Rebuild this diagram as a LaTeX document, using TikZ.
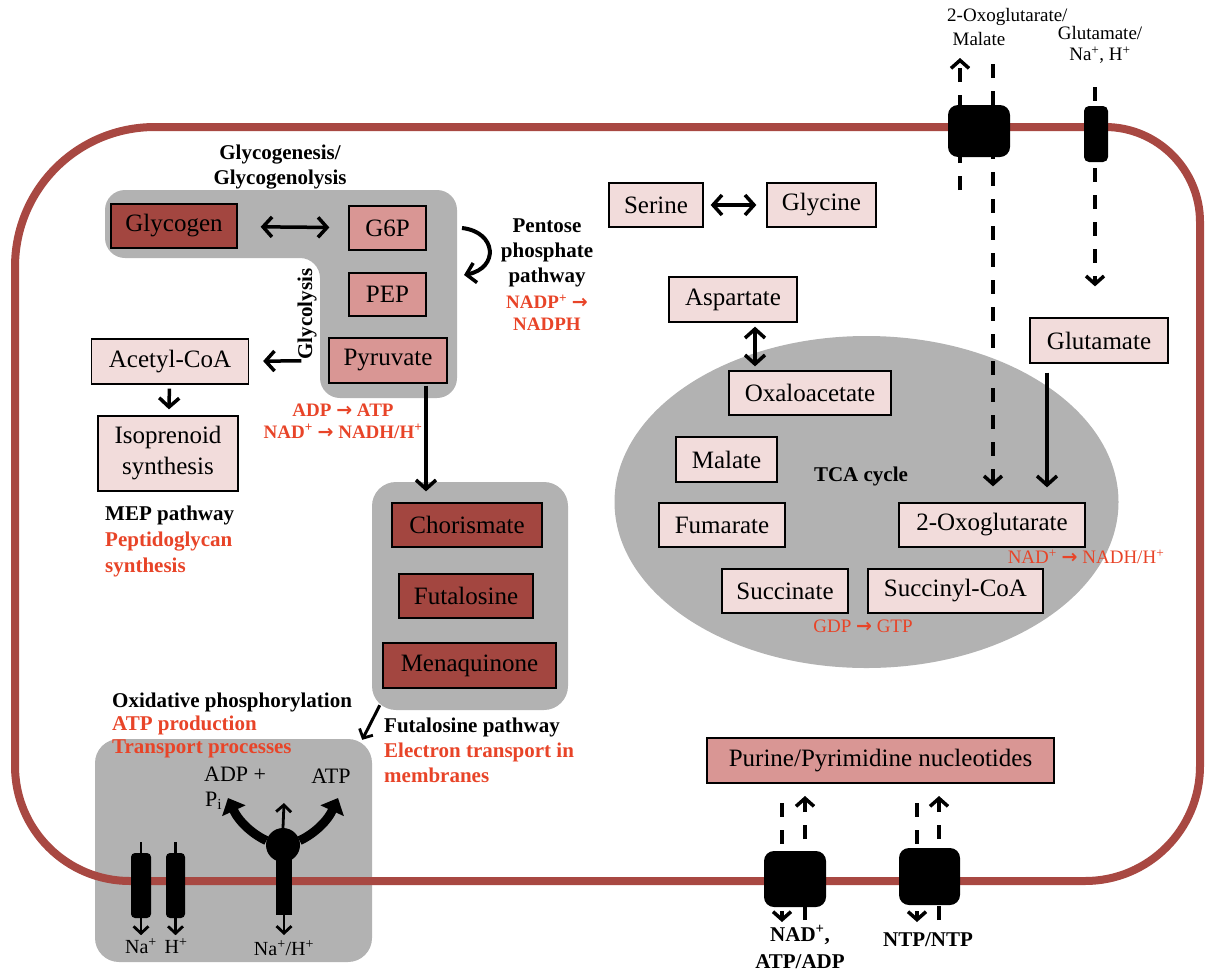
\documentclass[tikz,border=0pt]{standalone}
\usepackage{fontspec}
\setmainfont{Liberation Serif}
\newfontfamily\arrowfont{DejaVu Sans}
\usetikzlibrary{arrows.meta,calc,shapes.geometric}

\definecolor{membranered}{RGB}{168,72,66}
\definecolor{darkred}{RGB}{163,70,64}
\definecolor{midpink}{RGB}{217,150,148}
\definecolor{lightpink}{RGB}{242,220,219}
\definecolor{cellgrey}{RGB}{178,178,178}
\definecolor{labelred}{RGB}{232,68,40}

\newcommand{\ionp}{\textsuperscript{+}}
\newcommand{\yields}{{\arrowfont\bfseries →}}

\begin{document}
\begin{tikzpicture}[x=1pt, y=-1pt,
  box/.style={draw=black, line width=1.3pt, inner sep=0pt, align=center,
              font=\fontsize{25}{31}\selectfont},
  darkbox/.style={box, fill=darkred},
  midbox/.style={box, fill=midpink},
  lightbox/.style={box, fill=lightpink},
  dims/.style 2 args={minimum width=#1, minimum height=#2},
  greypanel/.style={fill=cellgrey, rounded corners=24pt, inner sep=0pt},
  membrane/.style={draw=membranered, line width=8pt},
  carrier/.style={fill=black, rounded corners=10pt, inner sep=0pt},
  pill/.style={fill=black, rounded corners=4pt, inner sep=0pt},
  barb/.style={Straight Barb[length=9pt,width=20pt,line width=3.5pt]},
  smallbarb/.style={Straight Barb[length=7pt,width=15pt,line width=2.8pt]},
  arr/.style={line width=3.5pt, -{Straight Barb[length=9pt,width=20pt,line width=3.5pt]}},
  dblarr/.style={line width=3.5pt,
     {Straight Barb[length=9pt,width=20pt,line width=3.5pt]}-{Straight Barb[length=9pt,width=20pt,line width=3.5pt]}},
  thinarr/.style={line width=2.8pt, -{Straight Barb[length=7pt,width=15pt,line width=2.8pt]}},
  dasharr/.style={line width=4pt, dash pattern=on 14pt off 13pt,
     -{Straight Barb[length=8pt,width=18pt,line width=3.5pt]}},
  fatarr/.style={line width=9pt, -{Triangle[length=14pt,width=25pt]}},
  pathlbl/.style={font=\fontsize{21}{25}\selectfont\bfseries, inner sep=0pt},
  redlbl/.style={text=labelred, font=\fontsize{19}{22}\selectfont, inner sep=0pt},
  redbold/.style={text=labelred, font=\fontsize{19}{22}\selectfont\bfseries, inner sep=0pt},
  toplbl/.style={font=\fontsize{19}{22}\selectfont, inner sep=0pt},
  ionlbl/.style={font=\fontsize{20}{24}\selectfont, inner sep=0pt},
  synlbl/.style={font=\fontsize{22}{26}\selectfont, inner sep=0pt},
  botlbl/.style={font=\fontsize{21}{27}\selectfont\bfseries, inner sep=0pt, align=center},
]
\useasboundingbox (0,0) rectangle (1206,972);

% ---------- grey compartments ----------
\fill[cellgrey, rounded corners=20pt]
  (105,190) -- (457,190) -- (457,398) -- (320,398) -- (320,258) -- (105,258) -- cycle;
\node[greypanel, dims={196pt}{228pt}] (futbox) at (470,596) {};
\node[greypanel, dims={277pt}{223pt}] (oxbox) at (233.5,850.5) {};
\node[ellipse, fill=cellgrey, inner sep=0pt, dims={504pt}{332pt}] (tca) at (866.5,502) {};

% ---------- cell membrane (corners of different radii) ----------
\draw[membrane]
  (15,267) .. controls (15,189.3) and (77.3,127) .. (155,127)
  -- (1105,127) .. controls (1157.4,127) and (1200,169.6) .. (1200,222)
  -- (1200,766) .. controls (1200,829.5) and (1148.5,881) .. (1085,881)
  -- (130,881) .. controls (66.5,881) and (15,829.5) .. (15,766)
  -- cycle;

% ---------- glycolysis block ----------
\node[darkbox, dims={126pt}{44pt}] (glycogen) at (174,226) {Glycogen};
\node[midbox, dims={77pt}{44pt}] (g6p) at (387.5,228) {G6P};
\node[midbox, dims={77pt}{43pt}] (pep) at (387.5,294.5) {PEP};
\node[midbox, dims={118pt}{45pt}] (pyruvate) at (388,360.5) {Pyruvate};
\draw[dblarr, shorten <=23pt, shorten >=19pt] (glycogen) -- (g6p);

\node[pathlbl, align=center] (glyclbl) at (280,167) {Glycogenesis/\\Glycogenolysis};
\node[pathlbl, rotate=90] (glylbl) at (307,314) {Glycolysis};

% pentose phosphate loop
\coordinate (ppa) at (462,228);
\coordinate (ppb) at (464,275);
\draw[arr, line width=4pt] (ppa) .. controls (497,232) and (499,268) .. (ppb);
\node[pathlbl, align=center] (ppp) at (547,253) {Pentose\\phosphate\\pathway};
\node[redbold, align=center] (pppenergy) at (547,313) {NADP\ionp~\yields\\NADPH};

% ---------- acetyl-CoA branch ----------
\node[lightbox, dims={157pt}{45pt}] (acetyl) at (170,361.5) {Acetyl-CoA};
\node[lightbox, dims={140pt}{75pt}] (isopren) at (168,453.5) {Isoprenoid\\synthesis};
\draw[arr, shorten <=27pt, shorten >=14pt] (pyruvate) -- (acetyl);
\draw[arr, shorten <=4pt, shorten >=6pt] (acetyl) -- (isopren);
\node[redbold, align=center] (glyenergy) at (343,421)
  {ADP~\yields~ATP\\NAD\ionp~\yields~NADH/H\ionp};
\node[pathlbl, align=left, anchor=west, font=\fontsize{21}{26}\selectfont\bfseries]
  (meplbl) at (105,541)
  {MEP pathway\\\textcolor{labelred}{Peptidoglycan}\\\textcolor{labelred}{synthesis}};

% ---------- futalosine block ----------
\node[darkbox, dims={150pt}{44pt}] (chorismate) at (467,525) {Chorismate};
\node[darkbox, dims={134pt}{44pt}] (futalosine) at (466,596) {Futalosine};
\node[darkbox, dims={173pt}{45pt}] (menaquinone) at (469.5,665.5) {Menaquinone};
\draw[arr, shorten <=2pt, shorten >=11pt]
  ([xshift=38pt]pyruvate.south) -- ([xshift=38pt]pyruvate.south |- chorismate.north);
\node[pathlbl, align=left, anchor=west] (futlbl) at (384,750)
  {Futalosine pathway\\\textcolor{labelred}{Electron transport in}\\\textcolor{labelred}{membranes}};
\draw[thinarr, line width=3pt] ([xshift=8pt,yshift=5pt]futbox.south west) -- ([xshift=-10pt,yshift=-1pt]oxbox.north east);

% ---------- oxidative phosphorylation ----------
\node[pathlbl, align=left, anchor=west, font=\fontsize{21}{23}\selectfont\bfseries]
  (oxlbl) at (112,725)
  {Oxidative phosphorylation\\\textcolor{labelred}{ATP production}\\\textcolor{labelred}{Transport processes}};

\node[pill, dims={20pt}{65pt}] (nach) at (141,885.5) {};
\node[pill, dims={19pt}{65pt}] (hch) at (175.5,885.5) {};
\draw[line width=2.5pt] (nach.north) -- ++(0,-11);
\draw[line width=2.5pt] (hch.north) -- ++(0,-11);
\draw[thinarr] (nach.south) -- ++(0,17);
\draw[thinarr] (hch.south) -- ++(0,17);
\node[ionlbl] (nalbl) at (141,946) {Na\ionp};
\node[ionlbl] (hlbl) at (176,946) {H\ionp};

\node[fill=black, rectangle, inner sep=0pt, dims={16pt}{70pt}] (synstalk) at (284,880) {};
\node[fill=black, circle, inner sep=0pt, minimum size=34pt] (synhead) at (283,845) {};
\coordinate (synup) at (284,803);
\coordinate (syndown) at (284,935);
\coordinate (adptip) at (228,798);
\coordinate (atptip) at (338,798);
\draw[thinarr] (synhead.north) -- (synup);
\draw[thinarr] (synstalk.south) -- (syndown);
\draw[fatarr] (synhead.165) .. controls (256,836) and (240,824) .. (adptip);
\draw[fatarr] (synhead.15) .. controls (310,836) and (326,824) .. (atptip);
\node[synlbl, anchor=west] (adplbl) at (204,774) {ADP +};
\node[synlbl, anchor=west] (pilbl) at (205,801) {P\textsubscript{i}};
\node[synlbl] (atplbl) at (331,776) {ATP};
\node[ionlbl] (nahlbl) at (284,948) {Na\ionp/H\ionp};

% ---------- amino acids ----------
\node[lightbox, dims={94pt}{44pt}] (serine) at (656,205) {Serine};
\node[lightbox, dims={109pt}{44pt}] (glycine) at (821.5,205) {Glycine};
\draw[dblarr, shorten <=7pt, shorten >=10pt] (serine) -- (glycine);
\node[lightbox, dims={128pt}{45pt}] (aspartate) at (733,299.5) {Aspartate};
\node[lightbox, dims={138pt}{45pt}] (glutamate) at (1099,340.5) {Glutamate};

% ---------- TCA cycle ----------
\node[lightbox, dims={162pt}{44pt}] (oxaloac) at (810,393) {Oxaloacetate};
\node[lightbox, dims={101pt}{45pt}] (malate) at (726.5,459.5) {Malate};
\node[lightbox, dims={126pt}{44pt}] (fumarate) at (722,525) {Fumarate};
\node[lightbox, dims={126pt}{44pt}] (succinate) at (785,591) {Succinate};
\node[lightbox, dims={175pt}{44pt}] (succcoa) at (955.5,591) {Succinyl-CoA};
\node[lightbox, dims={186pt}{44pt}] (oxoglut) at (992,525) {2-Oxoglutarate};
\node[font=\fontsize{21}{25}\selectfont\bfseries, inner sep=0pt] (tcalbl) at (861,476) {TCA cycle};
\node[redlbl] (gtplbl) at (863,626) {GDP~\yields~GTP};
\node[redlbl] (nadhlbl) at (1086,557) {NAD\ionp~\yields~NADH/H\ionp};

\draw[dblarr, shorten <=4pt, shorten >=4pt]
  ([xshift=22pt]aspartate.south) -- ([xshift=22pt]aspartate.south |- oxaloac.north);
\draw[arr, shorten <=9pt, shorten >=15pt]
  ([xshift=-52pt]glutamate.south) -- ([xshift=-52pt]glutamate.south |- oxoglut.north);

% ---------- top transporters ----------
\coordinate (omtin) at (960,190);
\coordinate (omtout) at (960,58);
\coordinate (omtsrc) at (993,64);
\coordinate (gltsrc) at (1095,87);
\draw[dasharr] (omtin) -- (omtout);
\draw[dasharr, shorten >=16pt] (omtsrc) -- (oxoglut.north -| omtsrc);
\draw[dasharr, shorten >=31pt] (gltsrc) -- (glutamate.north -| gltsrc);
\node[carrier, dims={62pt}{52pt}] (omt) at (979,131) {};
\node[pill, rounded corners=5pt, dims={24pt}{56pt}] (glt) at (1096,134) {};
\node[toplbl, anchor=west] (oxomallbl) at (947,17) {2-Oxoglutarate/};
\node[toplbl] (mallbl) at (979,39) {Malate};
\node[toplbl] (glulbl) at (1100,33) {Glutamate/};
\node[toplbl] (nahtop) at (1100,55) {Na\ionp, H\ionp};

% ---------- nucleotides ----------
\node[midbox, dims={347pt}{45pt}] (purine) at (880.5,760.5) {Purine/Pyrimidine nucleotides};
\coordinate (n1a) at (782,803);
\coordinate (n1b) at (782,922);
\coordinate (n1c) at (805,920);
\coordinate (n1d) at (805,796);
\coordinate (n2a) at (917,803);
\coordinate (n2b) at (917,922);
\coordinate (n2c) at (939,920);
\coordinate (n2d) at (939,796);
\draw[dasharr] (n1a) -- (n1b);
\draw[dasharr] (n1c) -- (n1d);
\draw[dasharr] (n2a) -- (n2b);
\draw[dasharr] (n2c) -- (n2d);
\node[carrier, dims={62pt}{56pt}] (ntr1) at (795,879) {};
\node[carrier, dims={61pt}{57pt}] (ntr2) at (929.5,876.5) {};
\node[botlbl] (nadatplbl) at (800,947) {NAD\ionp,\\ATP/ADP};
\node[botlbl] (ntplbl) at (928,940) {NTP/NTP};

\end{tikzpicture}
\end{document}
